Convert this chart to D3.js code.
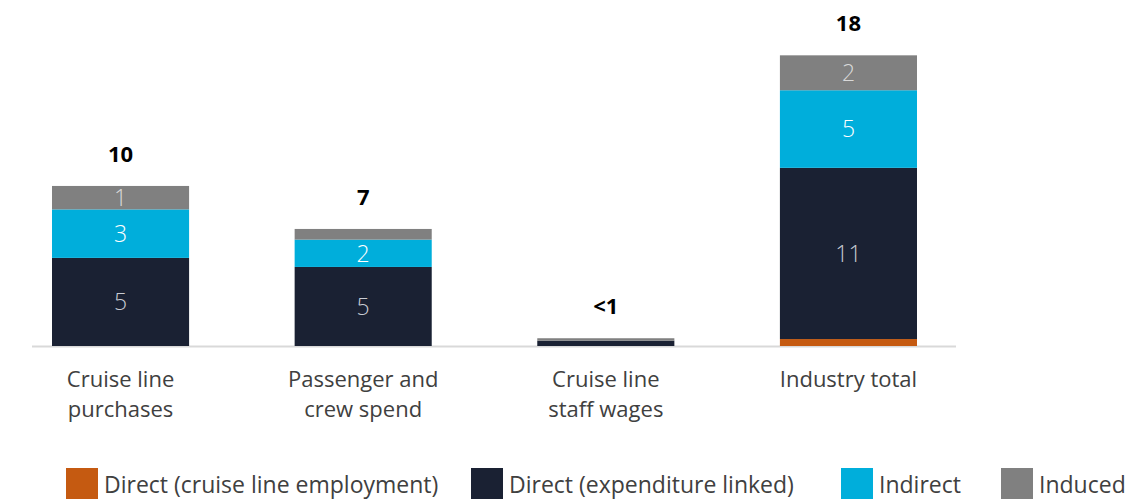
<!DOCTYPE html>
<html>
<head>
<meta charset="utf-8">
<script src="https://cdn.jsdelivr.net/npm/d3@7"></script>
<style>
  html, body { margin: 0; padding: 0; background: #fff; }
  svg { display: block; font-family: "Open Sans", "Noto Sans", sans-serif; }
</style>
</head>
<body>
<svg id="chart" width="1144" height="499"></svg>
<script>
// Categories (multi-line axis labels)
const categories = ["Cruise line purchases", "Passenger and crew spend", "Cruise line staff wages", "Industry total"];
const categoryLines = [["Cruise line", "purchases"], ["Passenger and", "crew spend"], ["Cruise line", "staff wages"], ["Industry total"]];

// Series, stacked bottom to top
const seriesNames = ["Direct (cruise line employment)", "Direct (expenditure linked)", "Indirect", "Induced"];
const directEmployment = [0, 0, 0, 0.43];
const directExpenditure = [5.45, 4.89, 0.33, 10.59];
const indirect = [3.0, 1.69, 0, 4.8];
const induced = [1.45, 0.66, 0.15, 2.16];

const colors = ["#c55a11", "#1a2133", "#00aedb", "#808080"];
const labelColors = ["#ffffff", "#c9ccd3", "#ffffff", "#d9d9d9"];

const svg = d3.select("#chart");
const baseline = 346;

const rows = categories.map((c, i) => ({
  category: c,
  "Direct (cruise line employment)": directEmployment[i],
  "Direct (expenditure linked)": directExpenditure[i],
  "Indirect": indirect[i],
  "Induced": induced[i]
}));

const stack = d3.stack().keys(seriesNames)(rows);
const totals = rows.map(r => d3.sum(seriesNames, k => r[k]));

const x = d3.scaleBand().domain(categories).range([52, 917]).paddingInner(0.435).paddingOuter(0);
const y = d3.scaleLinear().domain([0, 18]).range([baseline, 55]);

// Baseline rule
svg.append("line")
  .attr("x1", 32).attr("x2", 956)
  .attr("y1", baseline + 0.5).attr("y2", baseline + 0.5)
  .attr("stroke", "#d9d9d9").attr("stroke-width", 2);

// Stacked bars
const layers = svg.append("g").selectAll("g")
  .data(stack).join("g")
  .attr("fill", (d, i) => colors[i]);

layers.selectAll("rect")
  .data(d => d.map((v, j) => ({ v, cat: categories[j] })))
  .join("rect")
  .attr("x", d => x(d.cat))
  .attr("width", x.bandwidth())
  .attr("y", d => y(d.v[1]))
  .attr("height", d => Math.max(0, y(d.v[0]) - y(d.v[1])));

// Segment value labels (segments of at least 1)
const fmt = d3.format(".0f");
stack.forEach((layer, si) => {
  svg.append("g").selectAll("text")
    .data(layer.map((v, j) => ({ v, cat: categories[j], val: v[1] - v[0] })).filter(d => d.val >= 1))
    .join("text")
    .attr("x", d => x(d.cat) + x.bandwidth() / 2)
    .attr("y", d => (y(d.v[0]) + y(d.v[1])) / 2)
    .attr("dy", "0.36em")
    .attr("text-anchor", "middle")
    .attr("font-size", 23)
    .attr("font-weight", 300)
    .attr("fill", labelColors[si])
    .text(d => fmt(d.val));
});

// Totals above bars
svg.append("g").selectAll("text")
  .data(categories)
  .join("text")
  .attr("x", c => x(c) + x.bandwidth() / 2)
  .attr("y", (c, i) => y(totals[i]) - 24)
  .attr("text-anchor", "middle")
  .attr("font-size", 22)
  .attr("font-weight", 700)
  .attr("fill", "#000")
  .text((c, i) => totals[i] < 1 ? "<1" : fmt(totals[i]));

// Category labels, one text element per line
const catG = svg.append("g").selectAll("g")
  .data(categories)
  .join("g")
  .attr("transform", c => `translate(${x(c) + x.bandwidth() / 2},0)`);
catG.selectAll("text")
  .data((c, i) => categoryLines[i])
  .join("text")
  .attr("y", (d, i) => 387 + i * 30)
  .attr("text-anchor", "middle")
  .attr("font-size", 22)
  .attr("fill", "#404040")
  .text(d => d);

// Legend
const legendX = [66, 471, 841, 1001];
const legend = svg.append("g").selectAll("g")
  .data(seriesNames)
  .join("g")
  .attr("transform", (d, i) => `translate(${legendX[i]},468)`);
legend.append("rect")
  .attr("width", 32).attr("height", 32)
  .attr("fill", (d, i) => colors[i]);
legend.append("text")
  .attr("x", 38).attr("y", 25)
  .attr("font-size", 23)
  .attr("fill", "#404040")
  .text(d => d);
</script>
</body>
</html>
